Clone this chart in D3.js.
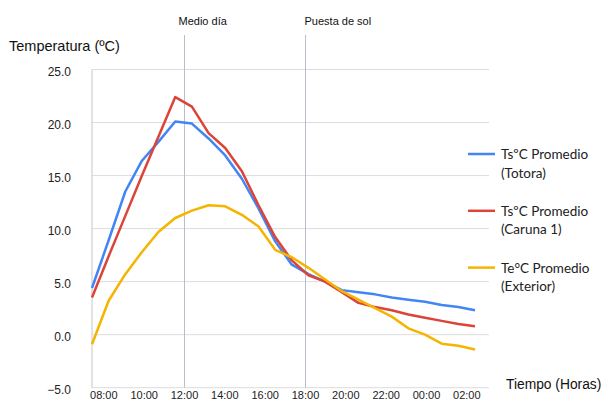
<!DOCTYPE html>
<html>
<head>
<meta charset="utf-8">
<script src="https://cdn.jsdelivr.net/npm/d3@7"></script>
<style>
  html, body { margin: 0; padding: 0; background: #fff; }
  svg { display: block; }
</style>
</head>
<body>
<div id="chart"></div>
<script>
// ---- data ----
const seriesNames = [
  ["TsºC Promedio", "(Totora)"],
  ["TsºC Promedio", "(Caruna 1)"],
  ["Te°C Promedio", "(Exterior)"]
];
const totora = [4.4, 8.9, 13.5, 16.4, 18.2, 20.1, 19.9, 18.5, 16.9, 14.7, 11.9, 8.8, 6.6, 5.7, 5.0, 4.2, 4.0, 3.8, 3.5, 3.3, 3.1, 2.8, 2.6, 2.3];
const caruna = [3.5, 7.4, 11.2, 15.0, 18.7, 22.4, 21.5, 19.0, 17.6, 15.4, 12.2, 9.2, 7.0, 5.6, 5.0, 4.0, 3.0, 2.6, 2.3, 1.9, 1.6, 1.3, 1.0, 0.8];
const exterior = [-0.9, 3.2, 5.7, 7.8, 9.7, 11.0, 11.7, 12.2, 12.1, 11.3, 10.2, 8.0, 7.3, 6.3, 5.2, 4.1, 3.3, 2.5, 1.7, 0.6, 0.0, -0.85, -1.05, -1.4];
const yTicks = [-5, 0, 5, 10, 15, 20, 25];
const xTickHours = [8, 10, 12, 14, 16, 18, 20, 22, 24, 26];
const xTickLabels = ["08:00", "10:00", "12:00", "14:00", "16:00", "18:00", "20:00", "22:00", "00:00", "02:00"];
const markerHours = [12, 18];
const markerLabels = ["Medio día", "Puesta de sol"];
const colors = ["#4285F4", "#DB4437", "#F4B400"];

// ---- layout ----
const W = 604, H = 401;
const plotL = 92, plotR = 489, plotT = 69.5, plotB = 387.7;

const svg = d3.select("#chart").append("svg").attr("width", W).attr("height", H);

const y = d3.scaleLinear().domain([-5, 25]).range([plotB, plotT]);
const xi = d3.scaleLinear().domain([0, totora.length - 1]).range([plotL, 475]);
const xh = d3.scaleLinear().domain([12, 18]).range([184.5, 305.5]);

const font = "'Liberation Sans', Arial, sans-serif";

// gridlines
svg.append("g").selectAll("line").data(yTicks).join("line")
  .attr("x1", plotL).attr("x2", plotR)
  .attr("y1", d => y(d)).attr("y2", d => y(d))
  .attr("stroke", "#dcdcdc").attr("stroke-width", 1);

// left axis line
svg.append("line").attr("x1", plotL).attr("x2", plotL)
  .attr("y1", y(25)).attr("y2", y(-5))
  .attr("stroke", "#cfcfcf").attr("stroke-width", 1.2);

// marker lines
svg.append("g").selectAll("line").data(markerHours).join("line")
  .attr("x1", d => xh(d)).attr("x2", d => xh(d))
  .attr("y1", 35).attr("y2", y(-5))
  .attr("stroke", "#b9bdcd").attr("stroke-width", 1);

svg.append("g").selectAll("text").data(markerHours).join("text")
  .attr("x", (d, i) => xh(d) + (i === 0 ? -6 : -1))
  .attr("y", 25)
  .attr("font-family", font).attr("font-size", 11).attr("fill", "#111")
  .text((d, i) => markerLabels[i]);

// y tick labels
svg.append("g").selectAll("text").data(yTicks).join("text")
  .attr("x", 71).attr("y", d => y(d) + 2)
  .attr("dy", "0.35em")
  .attr("text-anchor", "end")
  .attr("font-family", font).attr("font-size", 12).attr("fill", "#222")
  .text(d => d3.format(".1f")(d));

// x tick labels
svg.append("g").selectAll("text").data(xTickHours).join("text")
  .attr("x", d => xh(d)).attr("y", 399)
  .attr("text-anchor", "middle")
  .attr("font-family", font).attr("font-size", 11).attr("fill", "#222")
  .text((d, i) => xTickLabels[i]);

// axis titles
svg.append("text").attr("x", 9).attr("y", 51)
  .attr("font-family", font).attr("font-size", 14.5).attr("fill", "#111")
  .text("Temperatura (ºC)");
svg.append("text").attr("x", 506).attr("y", 389)
  .attr("font-family", font).attr("font-size", 13.8).attr("fill", "#111")
  .text("Tiempo (Horas)");

// lines
const line = d3.line().x((d, i) => xi(i)).y(d => y(d));
[totora, caruna, exterior].forEach((s, k) => {
  svg.append("path").datum(s)
    .attr("d", line)
    .attr("fill", "none")
    .attr("stroke", colors[k])
    .attr("stroke-width", 2.5)
    .attr("stroke-linejoin", "round");
});

// legend
const lg = svg.append("g");
seriesNames.forEach((nm, k) => {
  const ly = 154 + k * 56.8;
  lg.append("line").attr("x1", 468).attr("x2", 495).attr("y1", ly).attr("y2", ly)
    .attr("stroke", colors[k]).attr("stroke-width", 2.5);
  lg.append("text").attr("x", 501).attr("y", ly + 5)
    .attr("font-family", "Lato, 'Open Sans', sans-serif").attr("font-size", 13.5).attr("fill", "#222")
    .text(nm[0]);
  lg.append("text").attr("x", 501).attr("y", ly + 23.5)
    .attr("font-family", "Lato, 'Open Sans', sans-serif").attr("font-size", 13.5).attr("fill", "#222")
    .text(nm[1]);
});
</script>
</body>
</html>
